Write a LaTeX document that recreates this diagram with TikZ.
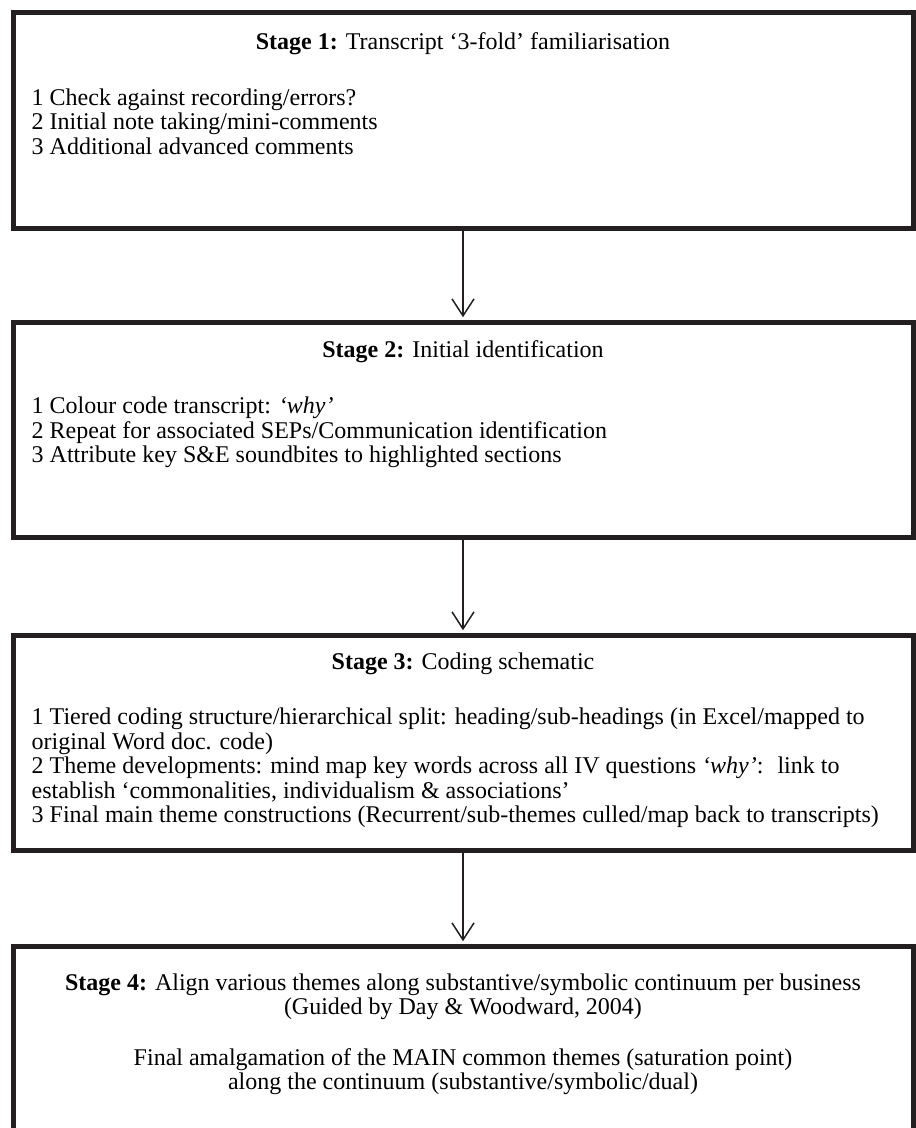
\documentclass[tikz,border=0pt]{standalone}
\usepackage{fontspec}
\setmainfont{Liberation Serif}
\usetikzlibrary{positioning,arrows.meta}
\definecolor{inkline}{HTML}{231F20}

\tikzset{
    stagebox/.style = {draw = inkline, line width = 5pt, minimum width = 900pt,
        minimum height = 215.5pt, inner sep = 0pt},
    stagetitle/.style = {inner sep = 0pt, align = center,
        font = \fontsize{24}{24.5}\selectfont},
    stageitems/.style = {inner sep = 0pt, align = left, anchor = north west,
        font = \fontsize{24}{24.5}\selectfont},
    flow/.style = {draw = inkline, line width = 1.5pt,
        -{Straight Barb[length = 17pt, width = 22pt, line width = 1.5pt]}}
}

\begin{document}
\begin{tikzpicture}[x=1pt, y=-1pt]
\useasboundingbox (0,0) rectangle (916,1128);
\clip (0,0) rectangle (916,1128);
% boxes
\node[stagebox] (s1) at (463,120.5) {};
\node[stagebox] (s2) at (463,430) {};
\node[stagebox] (s3) at (463,743) {};
\node[stagebox] (s4) at (463,1054) {};
% stage 1
\node[stagetitle, below = 22pt of s1.north] (s1title)
    {\textbf{Stage 1:} Transcript ‘3-fold’ familiarisation};
\node[stageitems, below right = 78pt and 21pt of s1.north west] (s1items)
    {1 Check against recording/errors?\\
     2 Initial note taking/mini-comments\\
     3 Additional advanced comments};
% stage 2
\node[stagetitle, below = 21pt of s2.north] (s2title)
    {\textbf{Stage 2:} Initial identification};
\node[stageitems, below right = 77pt and 21pt of s2.north west] (s2items)
    {1 Colour code transcript: \textit{‘why’}\\
     2 Repeat for associated SEPs/Communication identification\\
     3 Attribute key S\&E soundbites to highlighted sections};
% stage 3
\node[stagetitle, below = 20pt of s3.north] (s3title)
    {\textbf{Stage 3:} Coding schematic};
\node[stageitems, below right = 75pt and 21pt of s3.north west] (s3items)
    {1 Tiered coding structure/hierarchical split: heading/sub-headings (in Excel/mapped to\\
     original Word doc. code)\\
     2 Theme developments: mind map key words across all IV questions \textit{‘why’}:~ link to\\
     establish ‘commonalities, individualism \& associations’\\
     3 Final main theme constructions (Recurrent/sub-themes culled/map back to transcripts)};
% stage 4
\node[stagetitle, below = 29.5pt of s4.north] (s4title)
    {\textbf{Stage 4:} Align various themes along substantive/symbolic continuum per business\\
     (Guided by Day \& Woodward, 2004)};
\node[stagetitle, below = 28pt of s4title] (s4note)
    {Final amalgamation of the MAIN common themes (saturation point)\\
     along the continuum (substantive/symbolic/dual)};
% arrows
\draw[flow] (s1.south) -- ([yshift=2.5pt]s2.north);
\draw[flow] (s2.south) -- ([yshift=2.5pt]s3.north);
\draw[flow] (s3.south) -- ([yshift=2.5pt]s4.north);
\end{tikzpicture}
\end{document}
